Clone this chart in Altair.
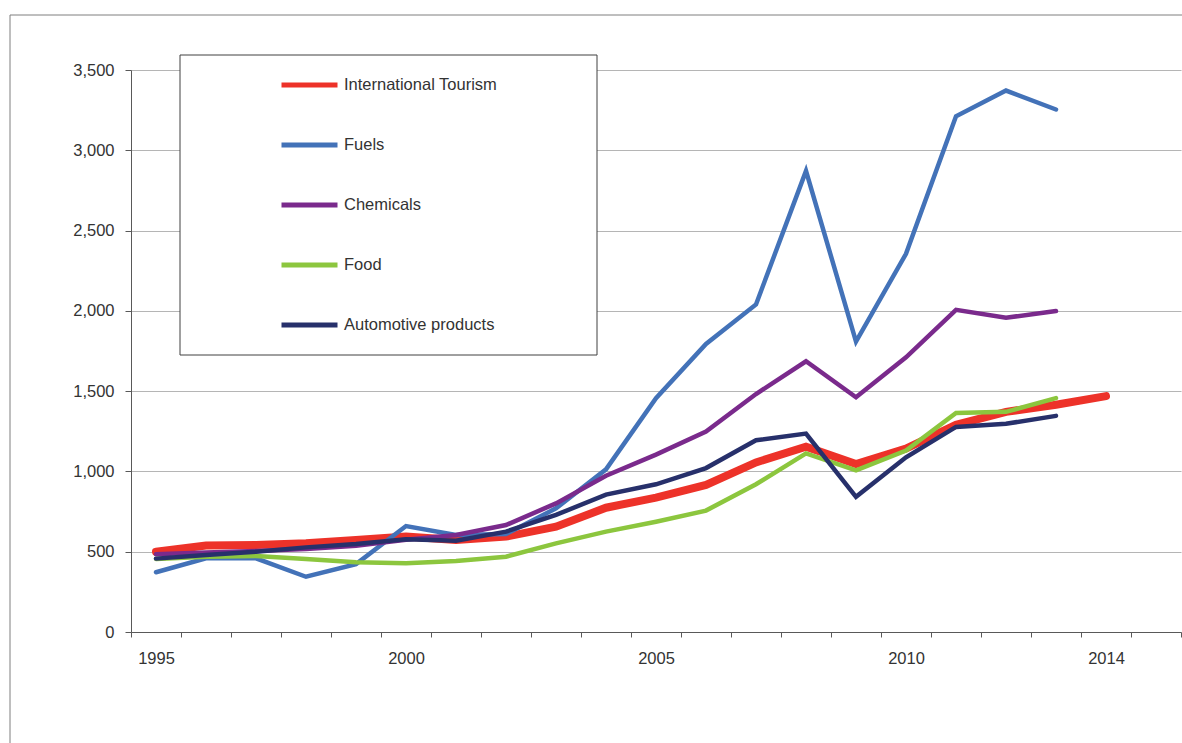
import altair as alt
import pandas as pd

years_all = list(range(1995, 2016))
years = list(range(1995, 2015))

series = ["International Tourism", "Fuels", "Chemicals", "Food", "Automotive products"]
colors = ["#ed3229", "#4372b8", "#7a2a8c", "#8cc63e", "#27306b"]

tourism = [500, 538, 542, 552, 573, 594, 573, 594, 656, 774, 837, 916, 1056, 1154, 1046, 1142, 1290, 1371, 1415, 1469]
fuels = [372, 459, 459, 344, 423, 660, 604, 610, 770, 1013, 1456, 1794, 2040, 2872, 1809, 2355, 3212, 3372, 3254]
chemicals = [484, 495, 505, 517, 537, 575, 604, 666, 801, 973, 1105, 1248, 1482, 1686, 1462, 1711, 2006, 1957, 1999]
food = [455, 469, 473, 455, 434, 428, 442, 469, 552, 625, 687, 756, 920, 1112, 1007, 1130, 1364, 1371, 1457]
automotive = [457, 480, 500, 527, 548, 577, 569, 625, 729, 856, 920, 1021, 1194, 1236, 842, 1088, 1277, 1297, 1346]

label_years = [1995, 2000, 2005, 2010, 2014]

rows = []
for name, vals in zip(series, [tourism, fuels, chemicals, food, automotive]):
    for y, v in zip(years, vals):
        rows.append({"year": y, "value": v, "series": name})
df = pd.DataFrame(rows)

FONT = "Liberation Sans, Arial, sans-serif"
FS = 16.5
TXT = "#333333"

frame = alt.Chart(pd.DataFrame({"k": [0]})).mark_rect(
    fill="white", fillOpacity=0, stroke="#7f7f7f", strokeWidth=1
).encode(
    x=alt.value(-121), x2=alt.value(1300), y=alt.value(-55), y2=alt.value(900)
)

legend_box = alt.Chart(pd.DataFrame({"k": [0]})).mark_rect(
    fill="white", stroke="#404040", strokeWidth=1
).encode(
    x=alt.value(49), x2=alt.value(466), y=alt.value(-15), y2=alt.value(285)
)

label_expr = "indexof([" + ",".join(str(v) for v in label_years) + "], datum.value) >= 0 ? datum.label : ''"

lines = alt.Chart(df).transform_calculate(
    weight="datum.series == 'International Tourism' ? 'thick' : 'thin'"
).mark_line(strokeCap="round", strokeJoin="miter").encode(
    x=alt.X(
        "year:O",
        scale=alt.Scale(type="band", domain=years_all, paddingInner=0, paddingOuter=0),
        axis=alt.Axis(
            title=None, tickBand="extent", labelExpr=label_expr, labelAngle=0,
            tickSize=5, labelPadding=13, domainColor="#595959", tickColor="#595959",
            labelFont=FONT, labelFontSize=FS, labelColor=TXT, grid=False,
        ),
    ),
    y=alt.Y(
        "value:Q",
        scale=alt.Scale(domain=[0, 3500], nice=False),
        axis=alt.Axis(
            title=None, values=[0, 500, 1000, 1500, 2000, 2500, 3000, 3500], format=",.0f",
            tickSize=6, labelPadding=11, domainColor="#595959", tickColor="#595959",
            gridColor="#b5b5b5", labelFont=FONT, labelFontSize=FS, labelColor=TXT,
        ),
    ),
    color=alt.Color(
        "series:N",
        scale=alt.Scale(domain=series, range=colors),
        legend=alt.Legend(
            title=None, orient="none", legendX=148, legendY=-13, symbolType="stroke",
            symbolSize=3136, symbolStrokeWidth=5, rowPadding=4, labelOffset=4,
            clipHeight=56,
            labelFont=FONT, labelFontSize=FS, labelColor=TXT, padding=0,
            labelLimit=400,
        ),
    ),
    strokeWidth=alt.StrokeWidth(
        "weight:N", scale=alt.Scale(domain=["thick", "thin"], range=[8, 4.5]), legend=None
    ),
)

chart = alt.layer(frame, legend_box, lines).properties(
    width=1050, height=562,
    autosize=alt.AutoSizeParams(type="none"),
    padding={"left": 131, "top": 70, "right": 1, "bottom": 111},
    background="white",
).configure_view(stroke=None)

chart.save("out.html", embed_options={"renderer": "svg", "actions": False})
